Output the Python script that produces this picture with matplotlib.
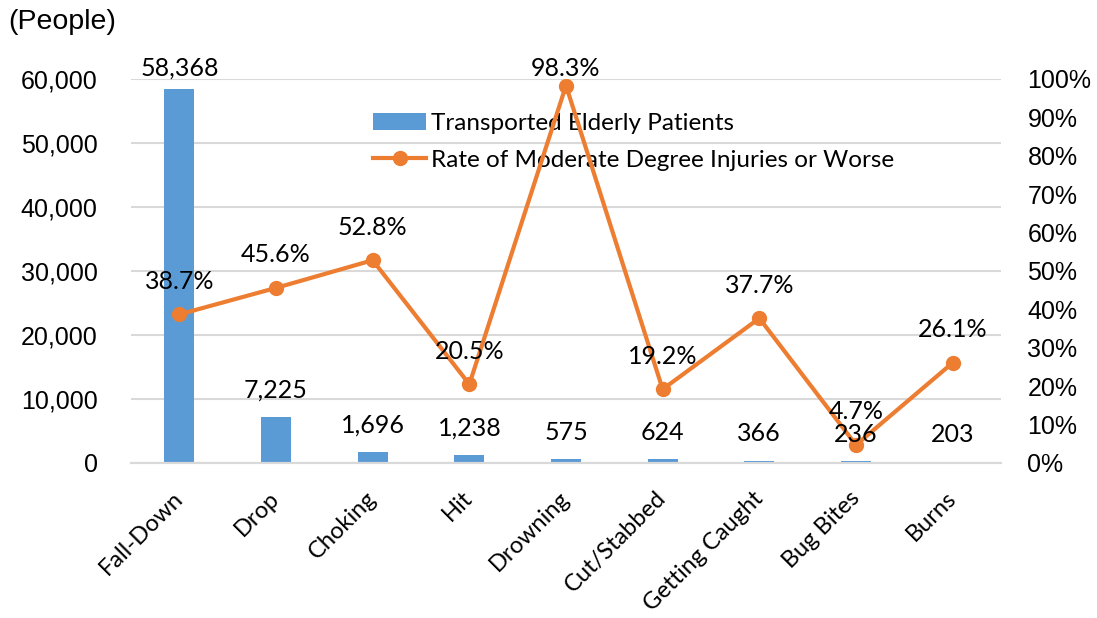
import matplotlib
matplotlib.use("Agg")
import matplotlib.pyplot as plt
from matplotlib.ticker import FuncFormatter, MultipleLocator

categories = ["Fall-Down", "Drop", "Choking", "Hit", "Drowning",
              "Cut/Stabbed", "Getting Caught", "Bug Bites", "Burns"]
patients = [58368, 7225, 1696, 1238, 575, 624, 366, 236, 203]
injury_rate = [38.7, 45.6, 52.8, 20.5, 98.3, 19.2, 37.7, 4.7, 26.1]

BLUE = "#5B9BD5"
ORANGE = "#ED7D31"
GRID = "#D9D9D9"
LABEL_FONT = ["Lato", "DejaVu Sans"]
AXIS_FONT = ["Liberation Sans", "DejaVu Sans"]
W, H = 1097, 618

fig = plt.figure(figsize=(W / 100, H / 100), dpi=100)
ax1 = fig.add_axes([131 / W, 1 - 463 / H, 870 / W, 384 / H])
ax2 = ax1.twinx()

x = list(range(len(categories)))
bars = ax1.bar(x, patients, width=0.31, color=BLUE, zorder=2,
               label="Transported Elderly Patients")
line, = ax2.plot(x, injury_rate, color=ORANGE, lw=3, marker="o", ms=10,
                 label="Rate of Moderate Degree Injuries or Worse")

ax1.set_xlim(-0.5, len(categories) - 0.5)
ax1.set_ylim(0, 60000)
ax2.set_ylim(0, 100)
ax1.yaxis.set_major_locator(MultipleLocator(10000))
ax2.yaxis.set_major_locator(MultipleLocator(10))
ax1.yaxis.set_major_formatter(FuncFormatter(lambda v, p: f"{v:,.0f}"))
ax2.yaxis.set_major_formatter(FuncFormatter(lambda v, p: f"{v:.0f}%"))

ax1.grid(axis="y", color=GRID, lw=1.5, zorder=0)
ax1.set_axisbelow(True)
for ax in (ax1, ax2):
    for s in ("top", "left", "right"):
        ax.spines[s].set_visible(False)
    ax.spines["bottom"].set_color(GRID)
    ax.spines["bottom"].set_linewidth(1.5)
    ax.tick_params(length=0)

ax1.tick_params(axis="y", pad=24)
ax2.tick_params(axis="y", pad=19)
for t in ax1.get_yticklabels() + ax2.get_yticklabels():
    t.set_fontfamily(AXIS_FONT)
    t.set_fontsize(18)

ax1.set_xticks(x)
ax1.set_xticklabels(categories, rotation=45, ha="right", va="center",
                    rotation_mode="anchor", fontsize=17, family=LABEL_FONT)
ax1.tick_params(axis="x", pad=23)


def put_label(ax, xi, v, text, offset_px, top_px=68):
    # label centre sits offset_px above the mark, but not above top_px (like Excel)
    px, py = ax.transData.transform((xi, v))
    py = min(py + offset_px, H - top_px)
    fx, fy = fig.transFigure.inverted().transform((px, py))
    fig.text(fx, fy, text, ha="center", va="center", fontsize=18,
             family=LABEL_FONT, zorder=5)


for xi, v in zip(x, patients):
    put_label(ax1, xi, v, f"{v:,}", 27)
for xi, v in zip(x, injury_rate):
    put_label(ax2, xi, v, f"{v:.1f}%", 33)

ax1.legend(handles=[bars, line], loc="upper left", frameon=False,
           bbox_to_anchor=(373 / W, 1 - 106 / H), bbox_transform=fig.transFigure,
           borderpad=0, borderaxespad=0, handlelength=2.2, handletextpad=0.2,
           labelspacing=0.65, prop={"family": LABEL_FONT, "size": 17.5})
ax1.get_legend().set_bbox_to_anchor((373 / W, 1 - 113 / H), transform=fig.transFigure)

fig.text(8 / W, 1 - 22 / H, "(People)", fontsize=20.5, family=AXIS_FONT,
         ha="left", va="center")

fig.savefig("out.png", dpi=100)
